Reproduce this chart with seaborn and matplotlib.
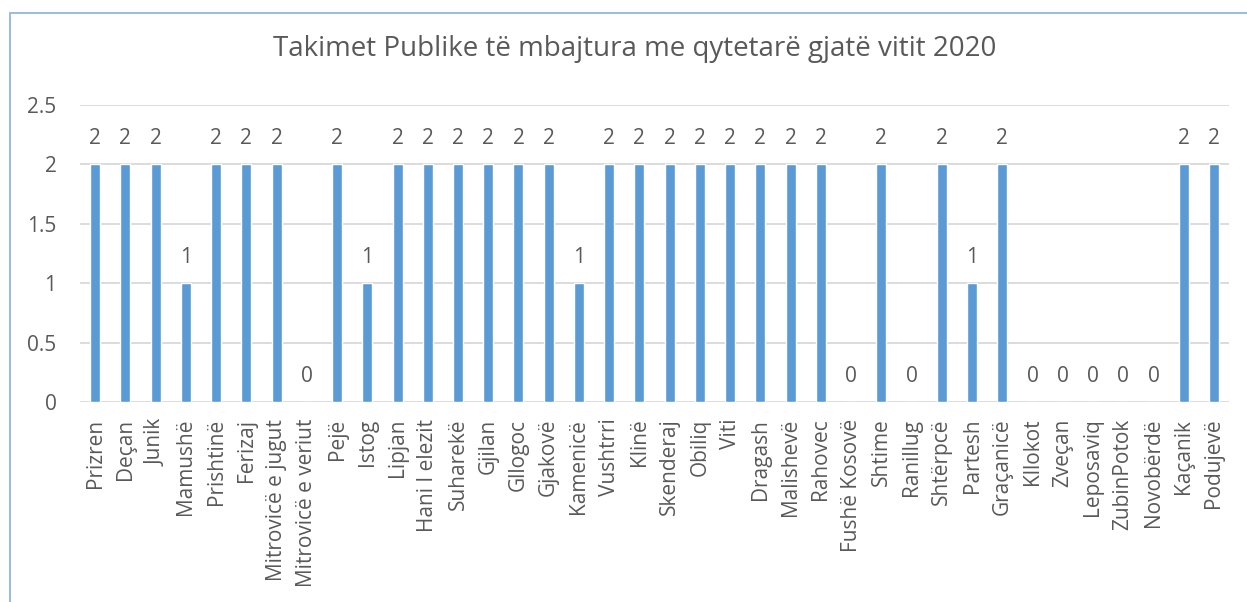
import matplotlib
matplotlib.use("Agg")
import matplotlib.pyplot as plt
import seaborn as sns
import pandas as pd
from matplotlib.patches import Rectangle

komunat = [
    "Prizren", "Deçan", "Junik", "Mamushë", "Prishtinë", "Ferizaj",
    "Mitrovicë e jugut", "Mitrovicë e veriut", "Pejë", "Istog", "Lipjan",
    "Hani I elezit", "Suharekë", "Gjilan", "Gllogoc", "Gjakovë", "Kamenicë",
    "Vushtrri", "Klinë", "Skenderaj", "Obiliq", "Viti", "Dragash",
    "Malishevë", "Rahovec", "Fushë Kosovë", "Shtime", "Ranillug", "Shtërpcë",
    "Partesh", "Graçanicë", "Kllokot", "Zveçan", "Leposaviq", "ZubinPotok",
    "Novobërdë", "Kaçanik", "Podujevë",
]
takimet = [
    2, 2, 2, 1, 2, 2, 2, 0, 2, 1, 2, 2, 2, 2, 2, 2, 1, 2, 2, 2, 2, 2, 2,
    2, 2, 0, 2, 0, 2, 1, 2, 0, 0, 0, 0, 0, 2, 2,
]
y_ticks = [0, 0.5, 1, 1.5, 2, 2.5]

title = "Takimet Publike të mbajtura me qytetarë gjatë vitit 2020"
bar_color = "#5B9BD5"
text_color = "#595959"

sns.set_style("white")
plt.rcParams["font.family"] = ["Open Sans", "DejaVu Sans"]

df = pd.DataFrame({"komuna": komunat, "takime": takimet})

fig = plt.figure(figsize=(12.47, 6.02), dpi=100)
ax = fig.add_axes([0.0642, 0.3322, 0.9214, 0.4934])

sns.barplot(data=df, x="komuna", y="takime", color=bar_color,
            saturation=1, width=0.33, ax=ax)

ax.bar_label(ax.containers[0], labels=[str(v) for v in takimet],
             padding=11, fontsize=15, color=text_color)

ax.set_ylim(0, 2.5)
ax.set_yticks(y_ticks)
ax.set_yticklabels([f"{t:g}" for t in y_ticks])
ax.set_xlim(-0.5, len(komunat) - 0.5)
ax.grid(axis="y", color="#D9D9D9", linewidth=1.3)
ax.set_axisbelow(True)
for s in ax.spines.values():
    s.set_visible(False)
ax.tick_params(axis="both", length=0, labelsize=15, labelcolor=text_color)
ax.tick_params(axis="y", pad=17)
ax.tick_params(axis="x", pad=12)
plt.setp(ax.get_xticklabels(), rotation=90)
ax.set_xlabel("")
ax.set_ylabel("")

fig.text(0.509, 0.918, title, ha="center", va="center",
         fontsize=20, color=text_color)

fig.patches.append(Rectangle((10 / 1247, -0.1), 1.2, 1.1 - 13 / 602,
                             transform=fig.transFigure, fill=False,
                             edgecolor="#8FB8E0", linewidth=1.3))

fig.savefig("out.png", dpi=100)
